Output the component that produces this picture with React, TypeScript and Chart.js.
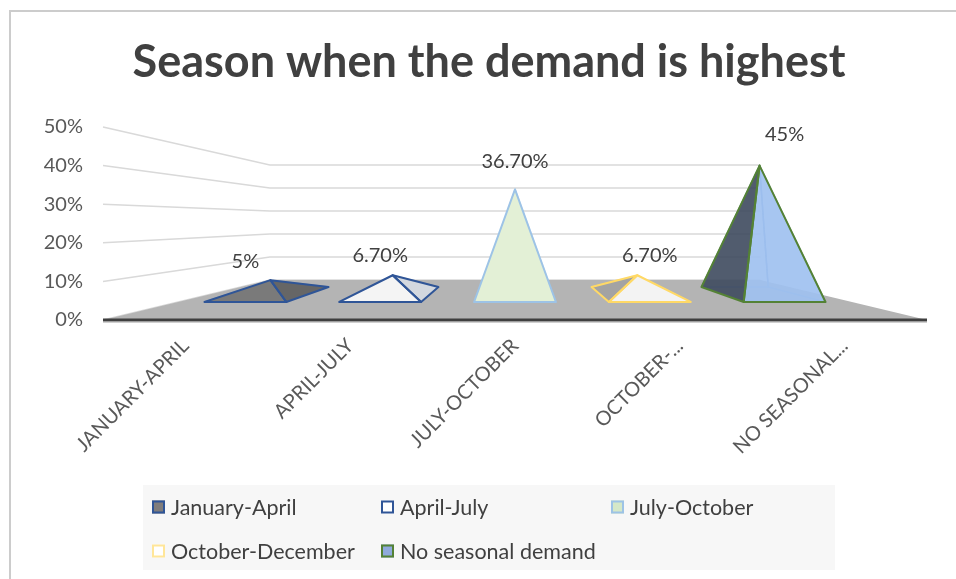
import React, { useEffect, useRef } from "react";
import { Chart, registerables } from "chart.js";

Chart.register(...registerables);

// ---------- data ----------
const chartTitle = "Season when the demand is highest";
const categories = ["January-April", "April-July", "July-October", "October-December", "No seasonal demand"];
const axisLabels = ["JANUARY-APRIL", "APRIL-JULY", "JULY-OCTOBER", "OCTOBER-...", "NO SEASONAL..."];
const shares = [5, 6.7, 36.7, 6.7, 45];
const shareLabels = ["5%", "6.70%", "36.70%", "6.70%", "45%"];
const yTicks = [0, 10, 20, 30, 40, 50];

// ---------- styles ----------
const FONT = "Lato, 'Open Sans', sans-serif";
const seriesStyles = [
  { front: "#7a7a7a", side: "#666666", edge: "#2f5597", hidden: "rgba(47,85,151,0.25)", swFill: "#807d7c", swEdge: "#2f5597" },
  { front: "#f4f4f4", side: "#d3d8df", edge: "#2f5597", hidden: "rgba(47,85,151,0.25)", swFill: "#ffffff", swEdge: "#2f5597" },
  { front: "#e3f0d6", side: "#d6e8c6", edge: "#9dc3e6", hidden: "rgba(157,195,230,0.3)", swFill: "#d5e8c8", swEdge: "#9dc3e6" },
  { front: "#f3f3f3", side: "#a3a3a3", edge: "#ffd966", hidden: "rgba(255,217,102,0.3)", swFill: "#ffffff", swEdge: "#ffe699" },
  { front: "rgba(160,193,240,0.92)", side: "rgba(62,74,94,0.9)", edge: "#548235", hidden: "rgba(120,160,210,0.9)", swFill: "#8faadc", swEdge: "#548235" },
];

// perspective model (fractions of the front plane)
const S_BACK = 0.595;
const S_BASE_FRONT = 0.818;
const S_BASE_BACK = 0.667;
const S_APEX = 0.742;
const VANISH = 0.513;

type Pt = [number, number];
const proj = (ca: any, x: number, y: number, s: number): Pt => {
  const cx = (ca.left + ca.right) / 2;
  const vy = ca.bottom - (ca.bottom - ca.top) * VANISH;
  return [cx + (x - cx) * s, vy + (y - vy) * s];
};

const poly = (ctx: CanvasRenderingContext2D, pts: Pt[]) => {
  ctx.beginPath();
  ctx.moveTo(pts[0][0], pts[0][1]);
  for (let i = 1; i < pts.length; i++) ctx.lineTo(pts[i][0], pts[i][1]);
  ctx.closePath();
};

const scenePlugin = {
  id: "scene3d",
  beforeDatasetsDraw(chart: any) {
    const { ctx, chartArea: ca, scales } = chart;
    const y = scales.y;
    ctx.save();
    // title
    ctx.fillStyle = "#404040";
    ctx.font = `bold 45px ${FONT}`;
    ctx.textAlign = "center";
    ctx.textBaseline = "middle";
    ctx.fillText(chartTitle, 489, 62);
    // gridlines on left and back walls
    ctx.strokeStyle = "#d9d9d9";
    ctx.lineWidth = 1.5;
    yTicks.forEach((v) => {
      const Y = y.getPixelForValue(v);
      const a = proj(ca, ca.left, Y, 1);
      const b = proj(ca, ca.left, Y, S_BACK);
      const c = proj(ca, ca.right, Y, S_BACK);
      ctx.beginPath();
      ctx.moveTo(a[0], a[1]);
      ctx.lineTo(b[0], b[1]);
      ctx.lineTo(c[0], c[1]);
      ctx.stroke();
    });
    // floor
    const base = y.getPixelForValue(0);
    poly(ctx, [
      proj(ca, ca.left, base, 1),
      proj(ca, ca.right, base, 1),
      proj(ca, ca.right, base, S_BACK),
      proj(ca, ca.left, base, S_BACK),
    ]);
    ctx.fillStyle = "#b4b4b4";
    ctx.fill();
    // front edge of floor
    ctx.strokeStyle = "#d0d0d0";
    ctx.lineWidth = 1;
    ctx.beginPath();
    ctx.moveTo(ca.left, base + 2.5);
    ctx.lineTo(ca.right, base + 2.5);
    ctx.stroke();
    ctx.strokeStyle = "#3f3f3f";
    ctx.lineWidth = 3;
    ctx.beginPath();
    ctx.moveTo(ca.left, base);
    ctx.lineTo(ca.right, base);
    ctx.stroke();
    ctx.restore();
  },
  afterDatasetsDraw(chart: any) {
    const { ctx, chartArea: ca } = chart;
    const cx = (ca.left + ca.right) / 2;
    ctx.save();
    ctx.lineJoin = "round";
    chart.data.datasets.forEach((ds: any, i: number) => {
      const meta = chart.getDatasetMeta(i);
      const el = meta.data[i];
      if (!el) return;
      const st = seriesStyles[i];
      const half = el.width / 2;
      const FL = proj(ca, el.x - half, el.base, S_BASE_FRONT);
      const FR = proj(ca, el.x + half, el.base, S_BASE_FRONT);
      const BR = proj(ca, el.x + half, el.base, S_BASE_BACK);
      const BL = proj(ca, el.x - half, el.base, S_BASE_BACK);
      const A = proj(ca, el.x, el.y, S_APEX);
      const leftFace: Pt[] = [BL, FL, A];
      const rightFace: Pt[] = [FR, BR, A];
      const backFace: Pt[] = [BR, BL, A];
      const frontFace: Pt[] = [FL, FR, A];
      const onLeft = el.x < cx - 1;
      const onRight = el.x > cx + 1;
      const hiddenSide = onLeft ? leftFace : rightFace;
      // hidden edges (seen through translucent faces)
      ctx.strokeStyle = st.hidden;
      ctx.lineWidth = 1.5;
      [backFace, hiddenSide].forEach((f) => {
        poly(ctx, f);
        ctx.stroke();
      });
      const visible: Pt[][] = [];
      if (onLeft) visible.push(rightFace);
      if (onRight) visible.push(leftFace);
      visible.forEach((f) => {
        poly(ctx, f);
        ctx.fillStyle = st.side;
        ctx.fill();
      });
      poly(ctx, frontFace);
      ctx.fillStyle = st.front;
      ctx.fill();
      ctx.strokeStyle = st.edge;
      ctx.lineWidth = 2;
      visible.forEach((f) => {
        poly(ctx, f);
        ctx.stroke();
      });
      poly(ctx, frontFace);
      ctx.stroke();

      // value label
      const lp = proj(ca, el.x, el.y, S_BASE_FRONT);
      ctx.fillStyle = "#404040";
      ctx.font = `20px ${FONT}`;
      ctx.textAlign = "center";
      ctx.textBaseline = "middle";
      ctx.fillText(shareLabels[i], lp[0], lp[1] - 25);
    });
    ctx.restore();
  },
  afterDraw(chart: any) {
    const { ctx } = chart;
    ctx.save();
    ctx.fillStyle = "#f7f7f7";
    ctx.fillRect(143, 485, 692, 85);
    const cols = [152, 381, 611];
    const rows = [507, 551];
    ctx.font = `21.5px ${FONT}`;
    ctx.textBaseline = "middle";
    ctx.textAlign = "left";
    categories.forEach((name, i) => {
      const x = cols[i < 3 ? i : i - 3];
      const yy = rows[i < 3 ? 0 : 1];
      const st = seriesStyles[i];
      ctx.fillStyle = st.swFill;
      ctx.fillRect(x, yy - 6.5, 13, 13);
      ctx.strokeStyle = st.swEdge;
      ctx.lineWidth = 2;
      ctx.strokeRect(x + 1, yy - 5.5, 11, 11);
      ctx.fillStyle = "#404040";
      ctx.fillText(name, x + 19, yy + 1);
    });
    ctx.restore();
  },
};

export default function App() {
  const ref = useRef<HTMLCanvasElement | null>(null);
  useEffect(() => {
    if (!ref.current) return;
    const datasets = categories.map((name, i) => ({
      label: name,
      data: shares.map((v, j) => (j === i ? v : null)),
      backgroundColor: "rgba(0,0,0,0)",
      borderWidth: 0,
      skipNull: true,
      categoryPercentage: 1,
      barPercentage: 0.607,
    }));
    const chart = new Chart(ref.current, {
      type: "bar",
      data: { labels: axisLabels, datasets },
      plugins: [scenePlugin],
      options: {
        responsive: false,
        animation: false,
        events: [],
        layout: { padding: { left: 0, right: 29, top: 127, bottom: 119 } },
        plugins: {
          legend: { display: false },
          tooltip: { enabled: false },
          title: { display: false },
        },
        scales: {
          x: {
            grid: { display: false, drawTicks: false },
            border: { display: false },
            ticks: {
              color: "#595959",
              font: { family: FONT, size: 20 },
              minRotation: 45,
              maxRotation: 45,
              padding: 14,
              autoSkip: false,
            },
            afterFit: (s: any) => {
              s.height = 140;
            },
          },
          y: {
            min: 0,
            max: 50,
            grid: { display: false, drawTicks: false },
            border: { display: false },
            afterBuildTicks: (s: any) => {
              s.ticks = yTicks.map((v) => ({ value: v }));
            },
            ticks: {
              color: "#595959",
              font: { family: FONT, size: 20 },
              padding: 20,
              callback: (v: any) => `${v}%`,
            },
            afterFit: (s: any) => {
              s.width = 103;
            },
          },
        },
      } as any,
    });
    return () => chart.destroy();
  }, []);
  return (
    <div style={{ position: "fixed", left: 0, top: 0, width: 956, height: 579, background: "#ffffff", overflow: "hidden" }}>
      <div
        style={{
          position: "absolute",
          left: 9,
          top: 10,
          width: 1000,
          height: 700,
          borderLeft: "2px solid #cccccc",
          borderTop: "2px solid #cccccc",
        }}
      />
      <canvas ref={ref} width={956} height={579} style={{ position: "absolute", left: 0, top: 0 }} />
    </div>
  );
}
